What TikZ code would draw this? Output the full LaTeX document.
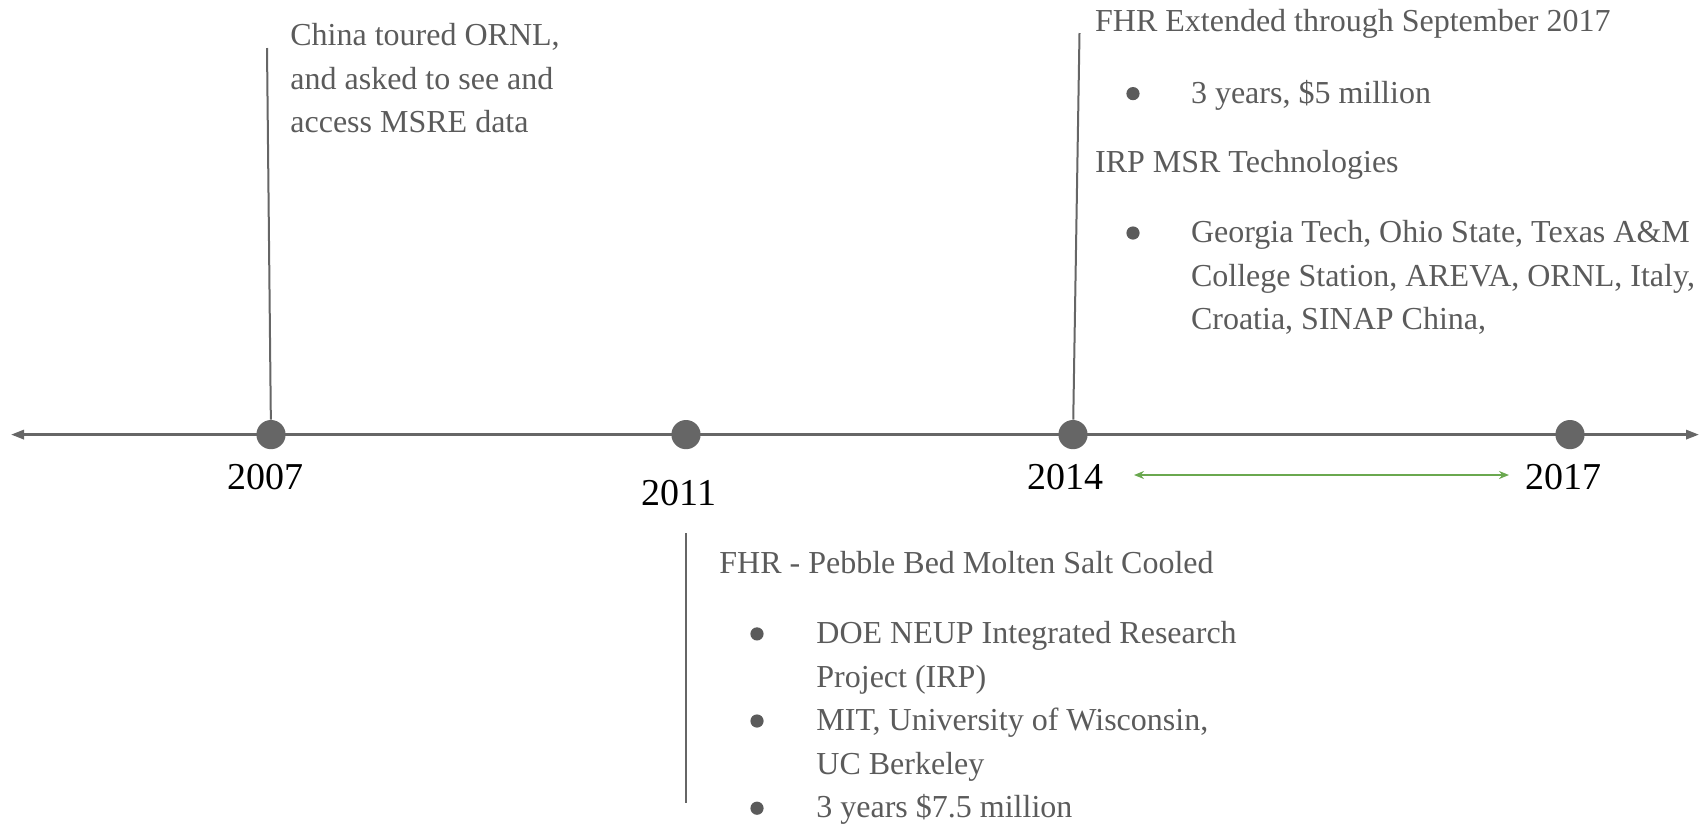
\documentclass[tikz,border=0pt]{standalone}
\usepackage{fontspec}
\setmainfont{Liberation Serif}
\usetikzlibrary{arrows.meta}
\definecolor{axisgrey}{HTML}{666666}
\definecolor{textgrey}{HTML}{5B5B5B}
\definecolor{spangreen}{HTML}{6AA84F}
\begin{document}
\begin{tikzpicture}[x=0.5pt,y=-0.5pt,
  yeardot/.style={circle,fill=axisgrey,inner sep=0pt,minimum size=14.6pt},
  yearlabel/.style={anchor=base,font=\fontsize{19}{19}\selectfont,text=black,inner sep=0pt},
  note/.style={anchor=base west,font=\fontsize{16}{21.8}\selectfont,text=textgrey,inner sep=0pt},
  bulletdot/.style={circle,fill=textgrey,inner sep=0pt,minimum size=6.6pt},
  stem/.style={draw=axisgrey,line width=1pt},
  axis/.style={draw=axisgrey,line width=1.3pt,{Triangle[length=6.5pt,width=4.6pt]}-{Triangle[length=6.5pt,width=4.6pt]}},
  span/.style={draw=spangreen,line width=0.9pt,{Stealth[length=5pt,width=4pt]}-{Stealth[length=5pt,width=4pt]}}]
\useasboundingbox (0,0) rectangle (1708,826);

% time axis
\coordinate (axisL) at (11,434.6);
\coordinate (axisR) at (1699,434.6);
\draw[axis] (axisL) -- (axisR);

% year markers
\node[yeardot] (d2007) at (271,434.6) {};
\node[yeardot] (d2011) at (686,434.6) {};
\node[yeardot] (d2014) at (1073,434.6) {};
\node[yeardot] (d2017) at (1570,434.6) {};

\node[yearlabel] (y2007) at (265,489) {2007};
\node[yearlabel] (y2011) at (679,505) {2011};
\node[yearlabel] (y2014) at (1065,489) {2014};
\node[yearlabel] (y2017) at (1563,489) {2017};

% stems
\coordinate (s2007) at (267,48);
\coordinate (s2014) at (1079.5,33);
\coordinate (s2011a) at (686,533);
\coordinate (s2011b) at (686,803);
\draw[stem] (s2007) -- (d2007);
\draw[stem] (s2014) -- (d2014);
\draw[stem] (s2011a) -- (s2011b);

% FHR extension span
\coordinate (spanL) at (1134,475);
\coordinate (spanR) at (1509,475);
\draw[span] (spanL) -- (spanR);

% 2007 note
\node[note] (n07a) at (290,45.4) {China toured ORNL,};
\node[note] (n07b) at (290,89) {and asked to see and};
\node[note] (n07c) at (290,132.6) {access MSRE data};

% 2014 notes
\node[note] (n14a) at (1094.7,31.2) {FHR Extended through September 2017};
\node[bulletdot] (b14a) at (1133,93.6) {};
\node[note] (n14b) at (1190.6,103.1) {3 years, \$5 million};
\node[note] (n14c) at (1094.7,172.8) {IRP MSR Technologies};
\node[bulletdot] (b14b) at (1133,233) {};
\node[note] (n14d) at (1190.6,242.5) {Georgia Tech, Ohio State, Texas A\&M};
\node[note] (n14e) at (1190.6,286.1) {College Station, AREVA, ORNL, Italy,};
\node[note] (n14f) at (1190.6,329.7) {Croatia, SINAP China,};

% 2011 notes
\node[note] (n11a) at (719,573.7) {FHR - Pebble Bed Molten Salt Cooled};
\node[bulletdot] (b11a) at (757,633.9) {};
\node[note] (n11b) at (816,643.4) {DOE NEUP Integrated Research};
\node[note] (n11c) at (816,687) {Project (IRP)};
\node[bulletdot] (b11b) at (757,721) {};
\node[note] (n11d) at (816,730.5) {MIT, University of Wisconsin,};
\node[note] (n11e) at (816,774.1) {UC Berkeley};
\node[bulletdot] (b11c) at (757,808.2) {};
\node[note] (n11f) at (816,817.7) {3 years \$7.5 million};
\end{tikzpicture}
\end{document}
